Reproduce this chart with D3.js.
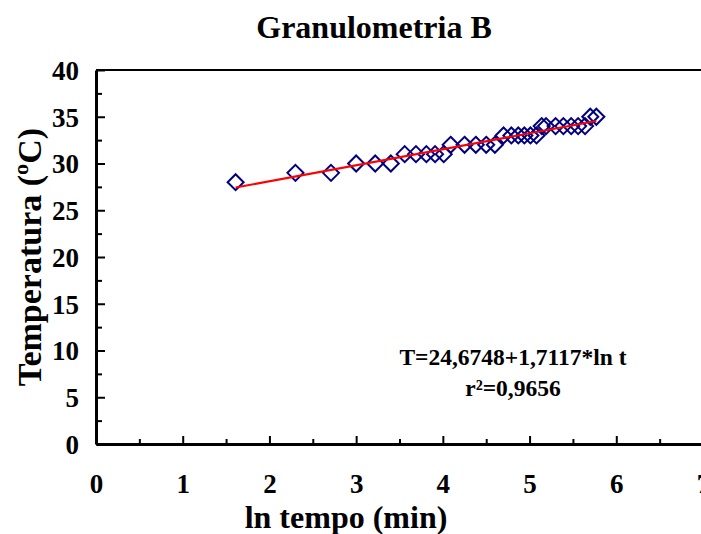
<!DOCTYPE html>
<html>
<head>
<meta charset="utf-8">
<script src="https://cdn.jsdelivr.net/npm/d3@7"></script>
<style>
  body { margin: 0; background: #fff; }
</style>
</head>
<body>
<div id="chart"></div>
<script>
// ln t (min) and measured temperature (ºC)
var lnTempo = [1.61, 2.30, 2.71, 3.00, 3.22, 3.40, 3.56, 3.69, 3.81, 3.91, 4.01,
  4.09, 4.25, 4.38, 4.50, 4.60, 4.70, 4.79, 4.87, 4.94, 5.01, 5.08,
  5.14, 5.19, 5.30, 5.39, 5.48, 5.56, 5.64, 5.70, 5.77];
var temperatura = [28, 29, 29, 30, 30, 30, 31, 31, 31, 31, 31,
  32, 32, 32, 32, 32, 33, 33, 33, 33, 33, 33,
  34, 34, 34, 34, 34, 34, 34, 35, 35];
var xTicks = [0, 1, 2, 3, 4, 5, 6, 7];
var yTicks = [0, 5, 10, 15, 20, 25, 30, 35, 40];
var coefA = 24.6748, coefB = 1.7117;
var eqLines = ["T=24,6748+1,7117*ln t", "r²=0,9656"];

var FONT = "Liberation Serif";

var margin = { top: 70, right: 0, bottom: 90, left: 96 },
  width = 701 - margin.left - margin.right,
  height = 534 - margin.top - margin.bottom;

var svg = d3.select("#chart")
  .append("svg")
  .attr("width", 701)
  .attr("height", 534)
  .attr("font-family", FONT)
  .attr("font-weight", "bold");

var g = svg.append("g")
  .attr("transform", "translate(" + margin.left + "," + margin.top + ")");

var x = d3.scaleLinear().domain([0, 7]).range([0, 607]);
var y = d3.scaleLinear().domain([0, 40]).range([374, 0]);

// minor ticks
g.append("g")
  .attr("transform", "translate(0,374)")
  .call(d3.axisBottom(x).tickValues(d3.range(0.5, 7, 1)).tickSize(-5).tickFormat(""))
  .call(function (a) { a.select(".domain").remove(); a.selectAll("line").attr("stroke-width", 2); });
g.append("g")
  .call(d3.axisLeft(y).tickValues(d3.range(2.5, 40, 5)).tickSize(-6).tickFormat(""))
  .call(function (a) { a.select(".domain").remove(); a.selectAll("line").attr("stroke-width", 2); });

// major axes
var xAxis = g.append("g")
  .attr("transform", "translate(0,374)")
  .call(d3.axisBottom(x).tickValues(xTicks).tickFormat(d3.format("d"))
    .tickSize(-8).tickPadding(30).tickSizeOuter(0));
var yAxis = g.append("g")
  .call(d3.axisLeft(y).tickValues(yTicks).tickFormat(d3.format("d"))
    .tickSize(-9).tickPadding(17).tickSizeOuter(0));

[xAxis, yAxis].forEach(function (a) {
  a.attr("font-family", FONT).attr("font-size", 27);
  a.select(".domain").attr("stroke-width", 3);
  a.selectAll("line").attr("stroke-width", 2);
  a.selectAll("text").attr("fill", "#000");
});
yAxis.selectAll("text").attr("dy", "0.35em");

// top border
g.append("line")
  .attr("x1", 0).attr("x2", width)
  .attr("y1", 0).attr("y2", 0)
  .attr("stroke", "#000").attr("stroke-width", 2);

// markers
var pts = lnTempo.map(function (d, i) { return { x: d, y: temperatura[i] }; });
g.selectAll(".pt")
  .data(pts).enter()
  .append("path")
  .attr("class", "pt")
  .attr("d", "M0,-8L8,0L0,8L-8,0Z")
  .attr("transform", function (d) { return "translate(" + x(d.x) + "," + y(d.y) + ")"; })
  .attr("fill", "none")
  .attr("stroke", "#000080")
  .attr("stroke-width", 2);

// regression line
var x0 = d3.min(lnTempo), x1 = d3.max(lnTempo);
g.append("line")
  .attr("x1", x(x0)).attr("y1", y(coefA + coefB * x0))
  .attr("x2", x(x1)).attr("y2", y(coefA + coefB * x1))
  .attr("stroke", "#ff0000")
  .attr("stroke-width", 2);

// equation
g.selectAll(".eq")
  .data(eqLines).enter()
  .append("text")
  .attr("class", "eq")
  .attr("x", 417)
  .attr("y", function (d, i) { return 295 + i * 31; })
  .attr("text-anchor", "middle")
  .attr("font-size", 23.5)
  .text(function (d) { return d; });

// title and axis labels
svg.append("text")
  .attr("x", 374).attr("y", 38)
  .attr("text-anchor", "middle")
  .attr("font-size", 32)
  .text("Granulometria B");

svg.append("text")
  .attr("x", 346).attr("y", 528)
  .attr("text-anchor", "middle")
  .attr("font-size", 32)
  .text("ln tempo (min)");

svg.append("text")
  .attr("transform", "translate(41,257) rotate(-90)")
  .attr("text-anchor", "middle")
  .attr("font-size", 34)
  .text("Temperatura (ºC)");
</script>
</body>
</html>
